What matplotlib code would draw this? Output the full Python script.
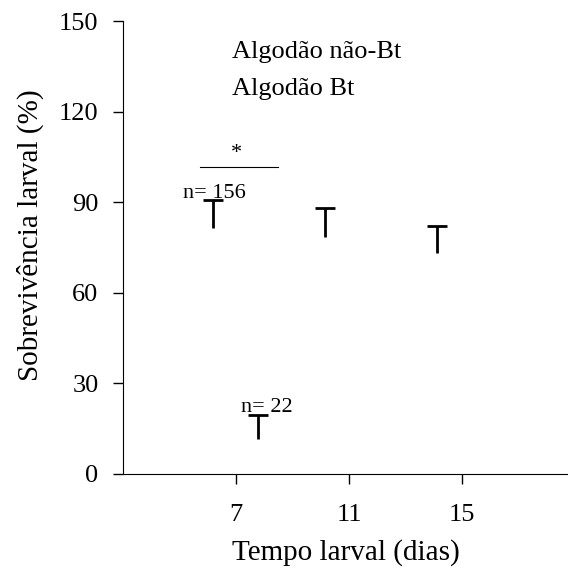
import matplotlib
matplotlib.use("Agg")
import matplotlib.pyplot as plt

plt.rcParams['font.family'] = ['Liberation Serif', 'DejaVu Serif']

# dados
tempo_nao_bt = [6.17, 10.15, 14.1]
sobrev_nao_bt = [81.4, 78.5, 73.1]
erro_nao_bt = [9.3, 9.7, 9.1]

tempo_bt = [7.78]
sobrev_bt = [11.6]
erro_bt = [7.9]

yticks = [0, 30, 60, 90, 120, 150]
xticks = [7, 11, 15]

fig = plt.figure(figsize=(5.68, 5.71), dpi=100)
ax = fig.add_axes([0.217, 0.170, 0.783, 0.793])

# so a barra de erro superior (sem cap inferior)
for x, y, e in [(tempo_nao_bt, sobrev_nao_bt, erro_nao_bt), (tempo_bt, sobrev_bt, erro_bt)]:
    line, caps, bars = ax.errorbar(x, y, yerr=[[0] * len(x), e], fmt='none',
                                   ecolor='black', elinewidth=2, capsize=7, capthick=2)
    caps[0].set_visible(False)

# significancia
ax.plot([5.72, 8.48], [101.8, 101.8], color='black', lw=0.8)
ax.text(6.99, 104.6, '*', ha='center', va='baseline', fontsize=16)
ax.text(5.11, 91.4, 'n= 156', ha='left', va='baseline', fontsize=16)
ax.text(7.16, 20.5, 'n= 22', ha='left', va='baseline', fontsize=16)

# legenda
ax.text(6.84, 137.7, 'Algodão não-Bt', ha='left', va='baseline', fontsize=19)
ax.text(6.84, 125.5, 'Algodão Bt', ha='left', va='baseline', fontsize=19)

ax.set_xlim(3, 18.74)
ax.set_ylim(0, 150)
ax.set_xticks(xticks)
ax.set_yticks(yticks)
ax.tick_params(labelsize=19, length=7, width=1, direction='out')
ax.tick_params(axis='y', pad=10.8)
ax.tick_params(axis='x', pad=15)
ax.spines['top'].set_visible(False)
ax.spines['right'].set_visible(False)

ax.set_xlabel('Tempo larval (dias)', fontsize=21)
ax.set_ylabel('Sobrevivência larval (%)', fontsize=21)
ax.xaxis.set_label_coords(0.5, -0.19)
ax.xaxis.label.set_va('baseline')
ax.yaxis.set_label_coords(-0.192, 0.527)
ax.yaxis.label.set_va('baseline')

fig.savefig('out.png', dpi=100)
